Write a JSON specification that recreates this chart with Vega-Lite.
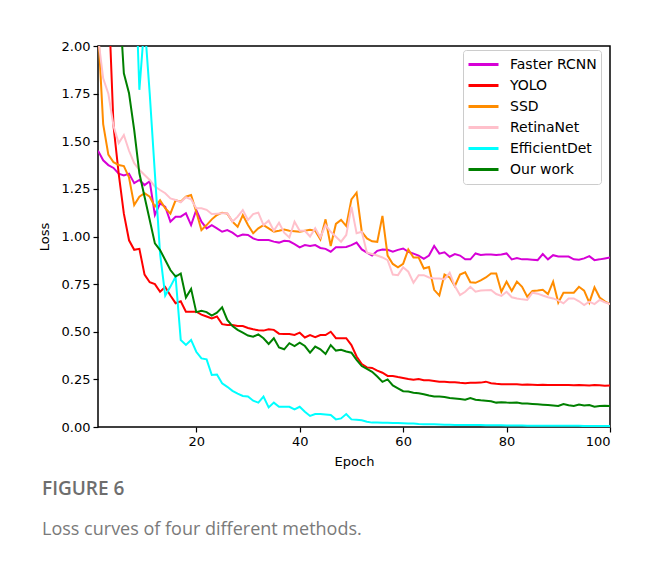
{
"$schema":"https://vega.github.io/schema/vega-lite/v6.json",
"width":512,"height":381,
"autosize":{"type":"none"},
"padding":{"left":98,"top":46,"right":38,"bottom":136},
"background":"white",
"title":{"text":"FIGURE 6","subtitle":"Loss curves of four different methods.","orient":"bottom","anchor":"start","frame":"bounds","font":"Open Sans","fontSize":19,"fontWeight":600,"color":"#6e6e6e","subtitleFont":"Open Sans","subtitleFontSize":18,"subtitleColor":"#7a7a7a","subtitlePadding":22,"offset":12,"dx":4},
"config":{"view":{"stroke":"black","strokeWidth":1.5},"axis":{"labelFont":"DejaVu Sans","labelFontSize":13,"titleFont":"DejaVu Sans","titleFontSize":13,"titleFontWeight":"normal","labelColor":"black","titleColor":"black","tickColor":"black","tickSize":5,"tickWidth":1.2,"domain":false,"grid":false,"labelPadding":3}},
"datasets":{"loss":[
{"epoch":1,"method":"Faster RCNN","loss":1.45},{"epoch":2,"method":"Faster RCNN","loss":1.40},{"epoch":3,"method":"Faster RCNN","loss":1.375},{"epoch":4,"method":"Faster RCNN","loss":1.36},{"epoch":5,"method":"Faster RCNN","loss":1.33},{"epoch":6,"method":"Faster RCNN","loss":1.32},{"epoch":7,"method":"Faster RCNN","loss":1.33},{"epoch":8,"method":"Faster RCNN","loss":1.28},{"epoch":9,"method":"Faster RCNN","loss":1.297},{"epoch":10,"method":"Faster RCNN","loss":1.27},
{"epoch":11,"method":"Faster RCNN","loss":1.29},{"epoch":12,"method":"Faster RCNN","loss":1.113},{"epoch":13,"method":"Faster RCNN","loss":1.174},{"epoch":14,"method":"Faster RCNN","loss":1.156},{"epoch":15,"method":"Faster RCNN","loss":1.078},{"epoch":16,"method":"Faster RCNN","loss":1.104},{"epoch":17,"method":"Faster RCNN","loss":1.104},{"epoch":18,"method":"Faster RCNN","loss":1.122},{"epoch":19,"method":"Faster RCNN","loss":1.06},{"epoch":20,"method":"Faster RCNN","loss":1.139},
{"epoch":21,"method":"Faster RCNN","loss":1.078},{"epoch":22,"method":"Faster RCNN","loss":1.043},{"epoch":23,"method":"Faster RCNN","loss":1.06},{"epoch":24,"method":"Faster RCNN","loss":1.043},{"epoch":25,"method":"Faster RCNN","loss":1.025},{"epoch":26,"method":"Faster RCNN","loss":1.034},{"epoch":27,"method":"Faster RCNN","loss":1.02},{"epoch":28,"method":"Faster RCNN","loss":1.0},{"epoch":29,"method":"Faster RCNN","loss":1.01},{"epoch":30,"method":"Faster RCNN","loss":1.008},
{"epoch":31,"method":"Faster RCNN","loss":0.99},{"epoch":32,"method":"Faster RCNN","loss":0.981},{"epoch":33,"method":"Faster RCNN","loss":0.981},{"epoch":34,"method":"Faster RCNN","loss":0.981},{"epoch":35,"method":"Faster RCNN","loss":0.973},{"epoch":36,"method":"Faster RCNN","loss":0.968},{"epoch":37,"method":"Faster RCNN","loss":0.978},{"epoch":38,"method":"Faster RCNN","loss":0.975},{"epoch":39,"method":"Faster RCNN","loss":0.96},{"epoch":40,"method":"Faster RCNN","loss":0.943},
{"epoch":41,"method":"Faster RCNN","loss":0.955},{"epoch":42,"method":"Faster RCNN","loss":0.95},{"epoch":43,"method":"Faster RCNN","loss":0.955},{"epoch":44,"method":"Faster RCNN","loss":0.94},{"epoch":45,"method":"Faster RCNN","loss":0.935},{"epoch":46,"method":"Faster RCNN","loss":0.92},{"epoch":47,"method":"Faster RCNN","loss":0.943},{"epoch":48,"method":"Faster RCNN","loss":0.943},{"epoch":49,"method":"Faster RCNN","loss":0.945},{"epoch":50,"method":"Faster RCNN","loss":0.955},
{"epoch":51,"method":"Faster RCNN","loss":0.968},{"epoch":52,"method":"Faster RCNN","loss":0.932},{"epoch":53,"method":"Faster RCNN","loss":0.915},{"epoch":54,"method":"Faster RCNN","loss":0.90},{"epoch":55,"method":"Faster RCNN","loss":0.925},{"epoch":56,"method":"Faster RCNN","loss":0.932},{"epoch":57,"method":"Faster RCNN","loss":0.93},{"epoch":58,"method":"Faster RCNN","loss":0.92},{"epoch":59,"method":"Faster RCNN","loss":0.93},{"epoch":60,"method":"Faster RCNN","loss":0.937},
{"epoch":61,"method":"Faster RCNN","loss":0.92},{"epoch":62,"method":"Faster RCNN","loss":0.91},{"epoch":63,"method":"Faster RCNN","loss":0.90},{"epoch":64,"method":"Faster RCNN","loss":0.883},{"epoch":65,"method":"Faster RCNN","loss":0.90},{"epoch":66,"method":"Faster RCNN","loss":0.95},{"epoch":67,"method":"Faster RCNN","loss":0.91},{"epoch":68,"method":"Faster RCNN","loss":0.917},{"epoch":69,"method":"Faster RCNN","loss":0.894},{"epoch":70,"method":"Faster RCNN","loss":0.908},
{"epoch":71,"method":"Faster RCNN","loss":0.90},{"epoch":72,"method":"Faster RCNN","loss":0.88},{"epoch":73,"method":"Faster RCNN","loss":0.88},{"epoch":74,"method":"Faster RCNN","loss":0.911},{"epoch":75,"method":"Faster RCNN","loss":0.903},{"epoch":76,"method":"Faster RCNN","loss":0.905},{"epoch":77,"method":"Faster RCNN","loss":0.906},{"epoch":78,"method":"Faster RCNN","loss":0.903},{"epoch":79,"method":"Faster RCNN","loss":0.905},{"epoch":80,"method":"Faster RCNN","loss":0.911},
{"epoch":81,"method":"Faster RCNN","loss":0.88},{"epoch":82,"method":"Faster RCNN","loss":0.887},{"epoch":83,"method":"Faster RCNN","loss":0.88},{"epoch":84,"method":"Faster RCNN","loss":0.88},{"epoch":85,"method":"Faster RCNN","loss":0.878},{"epoch":86,"method":"Faster RCNN","loss":0.876},{"epoch":87,"method":"Faster RCNN","loss":0.908},{"epoch":88,"method":"Faster RCNN","loss":0.88},{"epoch":89,"method":"Faster RCNN","loss":0.902},{"epoch":90,"method":"Faster RCNN","loss":0.895},
{"epoch":91,"method":"Faster RCNN","loss":0.895},{"epoch":92,"method":"Faster RCNN","loss":0.895},{"epoch":93,"method":"Faster RCNN","loss":0.88},{"epoch":94,"method":"Faster RCNN","loss":0.878},{"epoch":95,"method":"Faster RCNN","loss":0.885},{"epoch":96,"method":"Faster RCNN","loss":0.897},{"epoch":97,"method":"Faster RCNN","loss":0.876},{"epoch":98,"method":"Faster RCNN","loss":0.88},{"epoch":99,"method":"Faster RCNN","loss":0.885},{"epoch":100,"method":"Faster RCNN","loss":0.89},
{"epoch":1,"method":"YOLO","loss":3.4},{"epoch":2,"method":"YOLO","loss":2.8},{"epoch":3,"method":"YOLO","loss":2.28},{"epoch":4,"method":"YOLO","loss":1.58},{"epoch":5,"method":"YOLO","loss":1.33},{"epoch":6,"method":"YOLO","loss":1.12},{"epoch":7,"method":"YOLO","loss":0.98},{"epoch":8,"method":"YOLO","loss":0.93},{"epoch":9,"method":"YOLO","loss":0.935},{"epoch":10,"method":"YOLO","loss":0.80},
{"epoch":11,"method":"YOLO","loss":0.76},{"epoch":12,"method":"YOLO","loss":0.75},{"epoch":13,"method":"YOLO","loss":0.71},{"epoch":14,"method":"YOLO","loss":0.735},{"epoch":15,"method":"YOLO","loss":0.69},{"epoch":16,"method":"YOLO","loss":0.65},{"epoch":17,"method":"YOLO","loss":0.66},{"epoch":18,"method":"YOLO","loss":0.605},{"epoch":19,"method":"YOLO","loss":0.605},{"epoch":20,"method":"YOLO","loss":0.605},
{"epoch":21,"method":"YOLO","loss":0.59},{"epoch":22,"method":"YOLO","loss":0.58},{"epoch":23,"method":"YOLO","loss":0.57},{"epoch":24,"method":"YOLO","loss":0.58},{"epoch":25,"method":"YOLO","loss":0.54},{"epoch":26,"method":"YOLO","loss":0.535},{"epoch":27,"method":"YOLO","loss":0.535},{"epoch":28,"method":"YOLO","loss":0.53},{"epoch":29,"method":"YOLO","loss":0.53},{"epoch":30,"method":"YOLO","loss":0.52},
{"epoch":31,"method":"YOLO","loss":0.513},{"epoch":32,"method":"YOLO","loss":0.508},{"epoch":33,"method":"YOLO","loss":0.506},{"epoch":34,"method":"YOLO","loss":0.513},{"epoch":35,"method":"YOLO","loss":0.51},{"epoch":36,"method":"YOLO","loss":0.49},{"epoch":37,"method":"YOLO","loss":0.488},{"epoch":38,"method":"YOLO","loss":0.488},{"epoch":39,"method":"YOLO","loss":0.483},{"epoch":40,"method":"YOLO","loss":0.495},
{"epoch":41,"method":"YOLO","loss":0.47},{"epoch":42,"method":"YOLO","loss":0.483},{"epoch":43,"method":"YOLO","loss":0.472},{"epoch":44,"method":"YOLO","loss":0.483},{"epoch":45,"method":"YOLO","loss":0.483},{"epoch":46,"method":"YOLO","loss":0.5},{"epoch":47,"method":"YOLO","loss":0.466},{"epoch":48,"method":"YOLO","loss":0.466},{"epoch":49,"method":"YOLO","loss":0.466},{"epoch":50,"method":"YOLO","loss":0.43},
{"epoch":51,"method":"YOLO","loss":0.37},{"epoch":52,"method":"YOLO","loss":0.33},{"epoch":53,"method":"YOLO","loss":0.313},{"epoch":54,"method":"YOLO","loss":0.31},{"epoch":55,"method":"YOLO","loss":0.296},{"epoch":56,"method":"YOLO","loss":0.285},{"epoch":57,"method":"YOLO","loss":0.268},{"epoch":58,"method":"YOLO","loss":0.268},{"epoch":59,"method":"YOLO","loss":0.262},{"epoch":60,"method":"YOLO","loss":0.257},
{"epoch":61,"method":"YOLO","loss":0.252},{"epoch":62,"method":"YOLO","loss":0.248},{"epoch":63,"method":"YOLO","loss":0.252},{"epoch":64,"method":"YOLO","loss":0.245},{"epoch":65,"method":"YOLO","loss":0.245},{"epoch":66,"method":"YOLO","loss":0.242},{"epoch":67,"method":"YOLO","loss":0.237},{"epoch":68,"method":"YOLO","loss":0.237},{"epoch":69,"method":"YOLO","loss":0.235},{"epoch":70,"method":"YOLO","loss":0.235},
{"epoch":71,"method":"YOLO","loss":0.232},{"epoch":72,"method":"YOLO","loss":0.23},{"epoch":73,"method":"YOLO","loss":0.232},{"epoch":74,"method":"YOLO","loss":0.232},{"epoch":75,"method":"YOLO","loss":0.233},{"epoch":76,"method":"YOLO","loss":0.238},{"epoch":77,"method":"YOLO","loss":0.23},{"epoch":78,"method":"YOLO","loss":0.227},{"epoch":79,"method":"YOLO","loss":0.225},{"epoch":80,"method":"YOLO","loss":0.225},
{"epoch":81,"method":"YOLO","loss":0.224},{"epoch":82,"method":"YOLO","loss":0.224},{"epoch":83,"method":"YOLO","loss":0.222},{"epoch":84,"method":"YOLO","loss":0.223},{"epoch":85,"method":"YOLO","loss":0.222},{"epoch":86,"method":"YOLO","loss":0.221},{"epoch":87,"method":"YOLO","loss":0.222},{"epoch":88,"method":"YOLO","loss":0.22},{"epoch":89,"method":"YOLO","loss":0.22},{"epoch":90,"method":"YOLO","loss":0.221},
{"epoch":91,"method":"YOLO","loss":0.22},{"epoch":92,"method":"YOLO","loss":0.22},{"epoch":93,"method":"YOLO","loss":0.219},{"epoch":94,"method":"YOLO","loss":0.22},{"epoch":95,"method":"YOLO","loss":0.219},{"epoch":96,"method":"YOLO","loss":0.218},{"epoch":97,"method":"YOLO","loss":0.22},{"epoch":98,"method":"YOLO","loss":0.219},{"epoch":99,"method":"YOLO","loss":0.217},{"epoch":100,"method":"YOLO","loss":0.218},
{"epoch":1,"method":"SSD","loss":2.1},{"epoch":2,"method":"SSD","loss":1.59},{"epoch":3,"method":"SSD","loss":1.43},{"epoch":4,"method":"SSD","loss":1.39},{"epoch":5,"method":"SSD","loss":1.375},{"epoch":6,"method":"SSD","loss":1.37},{"epoch":7,"method":"SSD","loss":1.31},{"epoch":8,"method":"SSD","loss":1.165},{"epoch":9,"method":"SSD","loss":1.209},{"epoch":10,"method":"SSD","loss":1.227},
{"epoch":11,"method":"SSD","loss":1.209},{"epoch":12,"method":"SSD","loss":1.157},{"epoch":13,"method":"SSD","loss":1.19},{"epoch":14,"method":"SSD","loss":1.148},{"epoch":15,"method":"SSD","loss":1.12},{"epoch":16,"method":"SSD","loss":1.19},{"epoch":17,"method":"SSD","loss":1.183},{"epoch":18,"method":"SSD","loss":1.209},{"epoch":19,"method":"SSD","loss":1.218},{"epoch":20,"method":"SSD","loss":1.13},
{"epoch":21,"method":"SSD","loss":1.034},{"epoch":22,"method":"SSD","loss":1.06},{"epoch":23,"method":"SSD","loss":1.09},{"epoch":24,"method":"SSD","loss":1.113},{"epoch":25,"method":"SSD","loss":1.125},{"epoch":26,"method":"SSD","loss":1.12},{"epoch":27,"method":"SSD","loss":1.078},{"epoch":28,"method":"SSD","loss":1.051},{"epoch":29,"method":"SSD","loss":1.113},{"epoch":30,"method":"SSD","loss":1.06},
{"epoch":31,"method":"SSD","loss":1.017},{"epoch":32,"method":"SSD","loss":1.043},{"epoch":33,"method":"SSD","loss":1.06},{"epoch":34,"method":"SSD","loss":1.043},{"epoch":35,"method":"SSD","loss":1.025},{"epoch":36,"method":"SSD","loss":1.03},{"epoch":37,"method":"SSD","loss":1.037},{"epoch":38,"method":"SSD","loss":1.03},{"epoch":39,"method":"SSD","loss":1.028},{"epoch":40,"method":"SSD","loss":1.025},
{"epoch":41,"method":"SSD","loss":1.03},{"epoch":42,"method":"SSD","loss":1.035},{"epoch":43,"method":"SSD","loss":1.03},{"epoch":44,"method":"SSD","loss":0.985},{"epoch":45,"method":"SSD","loss":1.09},{"epoch":46,"method":"SSD","loss":0.95},{"epoch":47,"method":"SSD","loss":1.066},{"epoch":48,"method":"SSD","loss":1.087},{"epoch":49,"method":"SSD","loss":1.055},{"epoch":50,"method":"SSD","loss":1.195},
{"epoch":51,"method":"SSD","loss":1.23},{"epoch":52,"method":"SSD","loss":1.025},{"epoch":53,"method":"SSD","loss":0.99},{"epoch":54,"method":"SSD","loss":0.975},{"epoch":55,"method":"SSD","loss":0.972},{"epoch":56,"method":"SSD","loss":1.108},{"epoch":57,"method":"SSD","loss":0.90},{"epoch":58,"method":"SSD","loss":0.856},{"epoch":59,"method":"SSD","loss":0.838},{"epoch":60,"method":"SSD","loss":0.856},
{"epoch":61,"method":"SSD","loss":0.932},{"epoch":62,"method":"SSD","loss":0.89},{"epoch":63,"method":"SSD","loss":0.89},{"epoch":64,"method":"SSD","loss":0.832},{"epoch":65,"method":"SSD","loss":0.84},{"epoch":66,"method":"SSD","loss":0.72},{"epoch":67,"method":"SSD","loss":0.69},{"epoch":68,"method":"SSD","loss":0.80},{"epoch":69,"method":"SSD","loss":0.785},{"epoch":70,"method":"SSD","loss":0.74},
{"epoch":71,"method":"SSD","loss":0.80},{"epoch":72,"method":"SSD","loss":0.812},{"epoch":73,"method":"SSD","loss":0.76},{"epoch":74,"method":"SSD","loss":0.757},{"epoch":75,"method":"SSD","loss":0.77},{"epoch":76,"method":"SSD","loss":0.785},{"epoch":77,"method":"SSD","loss":0.806},{"epoch":78,"method":"SSD","loss":0.806},{"epoch":79,"method":"SSD","loss":0.71},{"epoch":80,"method":"SSD","loss":0.763},
{"epoch":81,"method":"SSD","loss":0.714},{"epoch":82,"method":"SSD","loss":0.763},{"epoch":83,"method":"SSD","loss":0.736},{"epoch":84,"method":"SSD","loss":0.684},{"epoch":85,"method":"SSD","loss":0.714},{"epoch":86,"method":"SSD","loss":0.716},{"epoch":87,"method":"SSD","loss":0.72},{"epoch":88,"method":"SSD","loss":0.698},{"epoch":89,"method":"SSD","loss":0.763},{"epoch":90,"method":"SSD","loss":0.653},
{"epoch":91,"method":"SSD","loss":0.705},{"epoch":92,"method":"SSD","loss":0.705},{"epoch":93,"method":"SSD","loss":0.705},{"epoch":94,"method":"SSD","loss":0.736},{"epoch":95,"method":"SSD","loss":0.716},{"epoch":96,"method":"SSD","loss":0.653},{"epoch":97,"method":"SSD","loss":0.733},{"epoch":98,"method":"SSD","loss":0.68},{"epoch":99,"method":"SSD","loss":0.66},{"epoch":100,"method":"SSD","loss":0.645},
{"epoch":1,"method":"RetinaNet","loss":2.05},{"epoch":2,"method":"RetinaNet","loss":1.83},{"epoch":3,"method":"RetinaNet","loss":1.75},{"epoch":4,"method":"RetinaNet","loss":1.58},{"epoch":5,"method":"RetinaNet","loss":1.49},{"epoch":6,"method":"RetinaNet","loss":1.533},{"epoch":7,"method":"RetinaNet","loss":1.45},{"epoch":8,"method":"RetinaNet","loss":1.385},{"epoch":9,"method":"RetinaNet","loss":1.35},{"epoch":10,"method":"RetinaNet","loss":1.323},
{"epoch":11,"method":"RetinaNet","loss":1.297},{"epoch":12,"method":"RetinaNet","loss":1.262},{"epoch":13,"method":"RetinaNet","loss":1.244},{"epoch":14,"method":"RetinaNet","loss":1.227},{"epoch":15,"method":"RetinaNet","loss":1.20},{"epoch":16,"method":"RetinaNet","loss":1.192},{"epoch":17,"method":"RetinaNet","loss":1.18},{"epoch":18,"method":"RetinaNet","loss":1.206},{"epoch":19,"method":"RetinaNet","loss":1.195},{"epoch":20,"method":"RetinaNet","loss":1.148},
{"epoch":21,"method":"RetinaNet","loss":1.148},{"epoch":22,"method":"RetinaNet","loss":1.14},{"epoch":23,"method":"RetinaNet","loss":1.118},{"epoch":24,"method":"RetinaNet","loss":1.12},{"epoch":25,"method":"RetinaNet","loss":1.122},{"epoch":26,"method":"RetinaNet","loss":1.122},{"epoch":27,"method":"RetinaNet","loss":1.078},{"epoch":28,"method":"RetinaNet","loss":1.104},{"epoch":29,"method":"RetinaNet","loss":1.139},{"epoch":30,"method":"RetinaNet","loss":1.087},
{"epoch":31,"method":"RetinaNet","loss":1.118},{"epoch":32,"method":"RetinaNet","loss":1.125},{"epoch":33,"method":"RetinaNet","loss":1.06},{"epoch":34,"method":"RetinaNet","loss":1.083},{"epoch":35,"method":"RetinaNet","loss":1.03},{"epoch":36,"method":"RetinaNet","loss":1.072},{"epoch":37,"method":"RetinaNet","loss":1.02},{"epoch":38,"method":"RetinaNet","loss":0.995},{"epoch":39,"method":"RetinaNet","loss":1.078},{"epoch":40,"method":"RetinaNet","loss":1.03},
{"epoch":41,"method":"RetinaNet","loss":1.03},{"epoch":42,"method":"RetinaNet","loss":1.0},{"epoch":43,"method":"RetinaNet","loss":1.043},{"epoch":44,"method":"RetinaNet","loss":0.995},{"epoch":45,"method":"RetinaNet","loss":1.06},{"epoch":46,"method":"RetinaNet","loss":1.025},{"epoch":47,"method":"RetinaNet","loss":0.999},{"epoch":48,"method":"RetinaNet","loss":0.973},{"epoch":49,"method":"RetinaNet","loss":1.008},{"epoch":50,"method":"RetinaNet","loss":1.157},
{"epoch":51,"method":"RetinaNet","loss":1.017},{"epoch":52,"method":"RetinaNet","loss":1.025},{"epoch":53,"method":"RetinaNet","loss":0.915},{"epoch":54,"method":"RetinaNet","loss":0.908},{"epoch":55,"method":"RetinaNet","loss":0.90},{"epoch":56,"method":"RetinaNet","loss":0.89},{"epoch":57,"method":"RetinaNet","loss":0.876},{"epoch":58,"method":"RetinaNet","loss":0.80},{"epoch":59,"method":"RetinaNet","loss":0.797},{"epoch":60,"method":"RetinaNet","loss":0.838},
{"epoch":61,"method":"RetinaNet","loss":0.815},{"epoch":62,"method":"RetinaNet","loss":0.757},{"epoch":63,"method":"RetinaNet","loss":0.797},{"epoch":64,"method":"RetinaNet","loss":0.797},{"epoch":65,"method":"RetinaNet","loss":0.785},{"epoch":66,"method":"RetinaNet","loss":0.78},{"epoch":67,"method":"RetinaNet","loss":0.78},{"epoch":68,"method":"RetinaNet","loss":0.775},{"epoch":69,"method":"RetinaNet","loss":0.81},{"epoch":70,"method":"RetinaNet","loss":0.74},
{"epoch":71,"method":"RetinaNet","loss":0.693},{"epoch":72,"method":"RetinaNet","loss":0.71},{"epoch":73,"method":"RetinaNet","loss":0.736},{"epoch":74,"method":"RetinaNet","loss":0.71},{"epoch":75,"method":"RetinaNet","loss":0.716},{"epoch":76,"method":"RetinaNet","loss":0.718},{"epoch":77,"method":"RetinaNet","loss":0.719},{"epoch":78,"method":"RetinaNet","loss":0.698},{"epoch":79,"method":"RetinaNet","loss":0.688},{"epoch":80,"method":"RetinaNet","loss":0.71},
{"epoch":81,"method":"RetinaNet","loss":0.681},{"epoch":82,"method":"RetinaNet","loss":0.675},{"epoch":83,"method":"RetinaNet","loss":0.67},{"epoch":84,"method":"RetinaNet","loss":0.667},{"epoch":85,"method":"RetinaNet","loss":0.705},{"epoch":86,"method":"RetinaNet","loss":0.70},{"epoch":87,"method":"RetinaNet","loss":0.69},{"epoch":88,"method":"RetinaNet","loss":0.681},{"epoch":89,"method":"RetinaNet","loss":0.675},{"epoch":90,"method":"RetinaNet","loss":0.665},
{"epoch":91,"method":"RetinaNet","loss":0.649},{"epoch":92,"method":"RetinaNet","loss":0.675},{"epoch":93,"method":"RetinaNet","loss":0.675},{"epoch":94,"method":"RetinaNet","loss":0.66},{"epoch":95,"method":"RetinaNet","loss":0.64},{"epoch":96,"method":"RetinaNet","loss":0.658},{"epoch":97,"method":"RetinaNet","loss":0.645},{"epoch":98,"method":"RetinaNet","loss":0.667},{"epoch":99,"method":"RetinaNet","loss":0.655},{"epoch":100,"method":"RetinaNet","loss":0.645},
{"epoch":1,"method":"EfficientDet","loss":5.0},{"epoch":2,"method":"EfficientDet","loss":4.6},{"epoch":3,"method":"EfficientDet","loss":4.2},{"epoch":4,"method":"EfficientDet","loss":3.8},{"epoch":5,"method":"EfficientDet","loss":3.5},{"epoch":6,"method":"EfficientDet","loss":3.2},{"epoch":7,"method":"EfficientDet","loss":2.9},{"epoch":8,"method":"EfficientDet","loss":2.54},{"epoch":9,"method":"EfficientDet","loss":1.77},{"epoch":10,"method":"EfficientDet","loss":2.125},
{"epoch":11,"method":"EfficientDet","loss":1.75},{"epoch":12,"method":"EfficientDet","loss":1.33},{"epoch":13,"method":"EfficientDet","loss":0.91},{"epoch":14,"method":"EfficientDet","loss":0.69},{"epoch":15,"method":"EfficientDet","loss":0.737},{"epoch":16,"method":"EfficientDet","loss":0.789},{"epoch":17,"method":"EfficientDet","loss":0.457},{"epoch":18,"method":"EfficientDet","loss":0.431},{"epoch":19,"method":"EfficientDet","loss":0.457},{"epoch":20,"method":"EfficientDet","loss":0.395},
{"epoch":21,"method":"EfficientDet","loss":0.36},{"epoch":22,"method":"EfficientDet","loss":0.355},{"epoch":23,"method":"EfficientDet","loss":0.273},{"epoch":24,"method":"EfficientDet","loss":0.275},{"epoch":25,"method":"EfficientDet","loss":0.229},{"epoch":26,"method":"EfficientDet","loss":0.211},{"epoch":27,"method":"EfficientDet","loss":0.19},{"epoch":28,"method":"EfficientDet","loss":0.175},{"epoch":29,"method":"EfficientDet","loss":0.163},{"epoch":30,"method":"EfficientDet","loss":0.16},
{"epoch":31,"method":"EfficientDet","loss":0.138},{"epoch":32,"method":"EfficientDet","loss":0.128},{"epoch":33,"method":"EfficientDet","loss":0.16},{"epoch":34,"method":"EfficientDet","loss":0.103},{"epoch":35,"method":"EfficientDet","loss":0.128},{"epoch":36,"method":"EfficientDet","loss":0.106},{"epoch":37,"method":"EfficientDet","loss":0.106},{"epoch":38,"method":"EfficientDet","loss":0.106},{"epoch":39,"method":"EfficientDet","loss":0.092},{"epoch":40,"method":"EfficientDet","loss":0.106},
{"epoch":41,"method":"EfficientDet","loss":0.08},{"epoch":42,"method":"EfficientDet","loss":0.058},{"epoch":43,"method":"EfficientDet","loss":0.068},{"epoch":44,"method":"EfficientDet","loss":0.068},{"epoch":45,"method":"EfficientDet","loss":0.066},{"epoch":46,"method":"EfficientDet","loss":0.063},{"epoch":47,"method":"EfficientDet","loss":0.04},{"epoch":48,"method":"EfficientDet","loss":0.045},{"epoch":49,"method":"EfficientDet","loss":0.068},{"epoch":50,"method":"EfficientDet","loss":0.04},
{"epoch":51,"method":"EfficientDet","loss":0.038},{"epoch":52,"method":"EfficientDet","loss":0.035},{"epoch":53,"method":"EfficientDet","loss":0.028},{"epoch":54,"method":"EfficientDet","loss":0.023},{"epoch":55,"method":"EfficientDet","loss":0.023},{"epoch":56,"method":"EfficientDet","loss":0.022},{"epoch":57,"method":"EfficientDet","loss":0.022},{"epoch":58,"method":"EfficientDet","loss":0.021},{"epoch":59,"method":"EfficientDet","loss":0.021},{"epoch":60,"method":"EfficientDet","loss":0.02},
{"epoch":61,"method":"EfficientDet","loss":0.019},{"epoch":62,"method":"EfficientDet","loss":0.018},{"epoch":63,"method":"EfficientDet","loss":0.016},{"epoch":64,"method":"EfficientDet","loss":0.015},{"epoch":65,"method":"EfficientDet","loss":0.014},{"epoch":66,"method":"EfficientDet","loss":0.014},{"epoch":67,"method":"EfficientDet","loss":0.013},{"epoch":68,"method":"EfficientDet","loss":0.012},{"epoch":69,"method":"EfficientDet","loss":0.012},{"epoch":70,"method":"EfficientDet","loss":0.011},
{"epoch":71,"method":"EfficientDet","loss":0.011},{"epoch":72,"method":"EfficientDet","loss":0.011},{"epoch":73,"method":"EfficientDet","loss":0.010},{"epoch":74,"method":"EfficientDet","loss":0.010},{"epoch":75,"method":"EfficientDet","loss":0.010},{"epoch":76,"method":"EfficientDet","loss":0.009},{"epoch":77,"method":"EfficientDet","loss":0.009},{"epoch":78,"method":"EfficientDet","loss":0.009},{"epoch":79,"method":"EfficientDet","loss":0.009},{"epoch":80,"method":"EfficientDet","loss":0.008},
{"epoch":81,"method":"EfficientDet","loss":0.008},{"epoch":82,"method":"EfficientDet","loss":0.008},{"epoch":83,"method":"EfficientDet","loss":0.008},{"epoch":84,"method":"EfficientDet","loss":0.007},{"epoch":85,"method":"EfficientDet","loss":0.007},{"epoch":86,"method":"EfficientDet","loss":0.007},{"epoch":87,"method":"EfficientDet","loss":0.007},{"epoch":88,"method":"EfficientDet","loss":0.007},{"epoch":89,"method":"EfficientDet","loss":0.006},{"epoch":90,"method":"EfficientDet","loss":0.006},
{"epoch":91,"method":"EfficientDet","loss":0.006},{"epoch":92,"method":"EfficientDet","loss":0.006},{"epoch":93,"method":"EfficientDet","loss":0.006},{"epoch":94,"method":"EfficientDet","loss":0.006},{"epoch":95,"method":"EfficientDet","loss":0.005},{"epoch":96,"method":"EfficientDet","loss":0.005},{"epoch":97,"method":"EfficientDet","loss":0.005},{"epoch":98,"method":"EfficientDet","loss":0.005},{"epoch":99,"method":"EfficientDet","loss":0.005},{"epoch":100,"method":"EfficientDet","loss":0.005},
{"epoch":1,"method":"Our work","loss":3.8},{"epoch":2,"method":"Our work","loss":3.3},{"epoch":3,"method":"Our work","loss":2.9},{"epoch":4,"method":"Our work","loss":2.6},{"epoch":5,"method":"Our work","loss":2.3},{"epoch":6,"method":"Our work","loss":1.857},{"epoch":7,"method":"Our work","loss":1.752},{"epoch":8,"method":"Our work","loss":1.559},{"epoch":9,"method":"Our work","loss":1.332},{"epoch":10,"method":"Our work","loss":1.209},
{"epoch":11,"method":"Our work","loss":1.087},{"epoch":12,"method":"Our work","loss":0.964},{"epoch":13,"method":"Our work","loss":0.929},{"epoch":14,"method":"Our work","loss":0.877},{"epoch":15,"method":"Our work","loss":0.824},{"epoch":16,"method":"Our work","loss":0.79},{"epoch":17,"method":"Our work","loss":0.805},{"epoch":18,"method":"Our work","loss":0.68},{"epoch":19,"method":"Our work","loss":0.725},{"epoch":20,"method":"Our work","loss":0.603},
{"epoch":21,"method":"Our work","loss":0.61},{"epoch":22,"method":"Our work","loss":0.603},{"epoch":23,"method":"Our work","loss":0.585},{"epoch":24,"method":"Our work","loss":0.60},{"epoch":25,"method":"Our work","loss":0.628},{"epoch":26,"method":"Our work","loss":0.562},{"epoch":27,"method":"Our work","loss":0.53},{"epoch":28,"method":"Our work","loss":0.51},{"epoch":29,"method":"Our work","loss":0.495},{"epoch":30,"method":"Our work","loss":0.48},
{"epoch":31,"method":"Our work","loss":0.474},{"epoch":32,"method":"Our work","loss":0.486},{"epoch":33,"method":"Our work","loss":0.466},{"epoch":34,"method":"Our work","loss":0.436},{"epoch":35,"method":"Our work","loss":0.466},{"epoch":36,"method":"Our work","loss":0.418},{"epoch":37,"method":"Our work","loss":0.408},{"epoch":38,"method":"Our work","loss":0.44},{"epoch":39,"method":"Our work","loss":0.425},{"epoch":40,"method":"Our work","loss":0.443},
{"epoch":41,"method":"Our work","loss":0.425},{"epoch":42,"method":"Our work","loss":0.39},{"epoch":43,"method":"Our work","loss":0.422},{"epoch":44,"method":"Our work","loss":0.408},{"epoch":45,"method":"Our work","loss":0.383},{"epoch":46,"method":"Our work","loss":0.43},{"epoch":47,"method":"Our work","loss":0.401},{"epoch":48,"method":"Our work","loss":0.405},{"epoch":49,"method":"Our work","loss":0.396},{"epoch":50,"method":"Our work","loss":0.39},
{"epoch":51,"method":"Our work","loss":0.352},{"epoch":52,"method":"Our work","loss":0.32},{"epoch":53,"method":"Our work","loss":0.305},{"epoch":54,"method":"Our work","loss":0.29},{"epoch":55,"method":"Our work","loss":0.265},{"epoch":56,"method":"Our work","loss":0.237},{"epoch":57,"method":"Our work","loss":0.25},{"epoch":58,"method":"Our work","loss":0.218},{"epoch":59,"method":"Our work","loss":0.203},{"epoch":60,"method":"Our work","loss":0.188},
{"epoch":61,"method":"Our work","loss":0.186},{"epoch":62,"method":"Our work","loss":0.18},{"epoch":63,"method":"Our work","loss":0.177},{"epoch":64,"method":"Our work","loss":0.172},{"epoch":65,"method":"Our work","loss":0.165},{"epoch":66,"method":"Our work","loss":0.16},{"epoch":67,"method":"Our work","loss":0.16},{"epoch":68,"method":"Our work","loss":0.158},{"epoch":69,"method":"Our work","loss":0.152},{"epoch":70,"method":"Our work","loss":0.15},
{"epoch":71,"method":"Our work","loss":0.147},{"epoch":72,"method":"Our work","loss":0.143},{"epoch":73,"method":"Our work","loss":0.152},{"epoch":74,"method":"Our work","loss":0.143},{"epoch":75,"method":"Our work","loss":0.14},{"epoch":76,"method":"Our work","loss":0.138},{"epoch":77,"method":"Our work","loss":0.135},{"epoch":78,"method":"Our work","loss":0.128},{"epoch":79,"method":"Our work","loss":0.13},{"epoch":80,"method":"Our work","loss":0.128},
{"epoch":81,"method":"Our work","loss":0.127},{"epoch":82,"method":"Our work","loss":0.128},{"epoch":83,"method":"Our work","loss":0.124},{"epoch":84,"method":"Our work","loss":0.123},{"epoch":85,"method":"Our work","loss":0.121},{"epoch":86,"method":"Our work","loss":0.119},{"epoch":87,"method":"Our work","loss":0.117},{"epoch":88,"method":"Our work","loss":0.115},{"epoch":89,"method":"Our work","loss":0.113},{"epoch":90,"method":"Our work","loss":0.11},
{"epoch":91,"method":"Our work","loss":0.121},{"epoch":92,"method":"Our work","loss":0.114},{"epoch":93,"method":"Our work","loss":0.11},{"epoch":94,"method":"Our work","loss":0.118},{"epoch":95,"method":"Our work","loss":0.113},{"epoch":96,"method":"Our work","loss":0.115},{"epoch":97,"method":"Our work","loss":0.106},{"epoch":98,"method":"Our work","loss":0.11},{"epoch":99,"method":"Our work","loss":0.112},{"epoch":100,"method":"Our work","loss":0.11}
]},
"data":{"name":"loss"},
"mark":{"type":"line","strokeWidth":2,"clip":true},
"encoding":{
"x":{"field":"epoch","type":"quantitative","scale":{"domain":[1,100],"nice":false,"zero":false},"axis":{"values":[20,40,60,80,100],"title":"Epoch","titlePadding":7}},
"y":{"field":"loss","type":"quantitative","scale":{"domain":[0,2],"nice":false},"axis":{"values":[0,0.25,0.5,0.75,1,1.25,1.5,1.75,2],"format":".2f","title":"Loss","titlePadding":10}},
"color":{"field":"method","type":"nominal","sort":["Faster RCNN","YOLO","SSD","RetinaNet","EfficientDet","Our work"],"scale":{"domain":["Faster RCNN","YOLO","SSD","RetinaNet","EfficientDet","Our work"],"range":["#d600d6","#ff0000","#ff8c00","#ffc0cb","#00ffff","#008000"]},"legend":{"title":null,"orient":"none","legendX":365,"legendY":4,"symbolType":"stroke","symbolSize":900,"symbolStrokeWidth":3,"labelFont":"DejaVu Sans","labelFontSize":14,"labelColor":"black","labelOffset":10,"clipHeight":21,"rowPadding":0,"padding":4,"strokeColor":"#cccccc","fillColor":"white","cornerRadius":3}}
}
}
